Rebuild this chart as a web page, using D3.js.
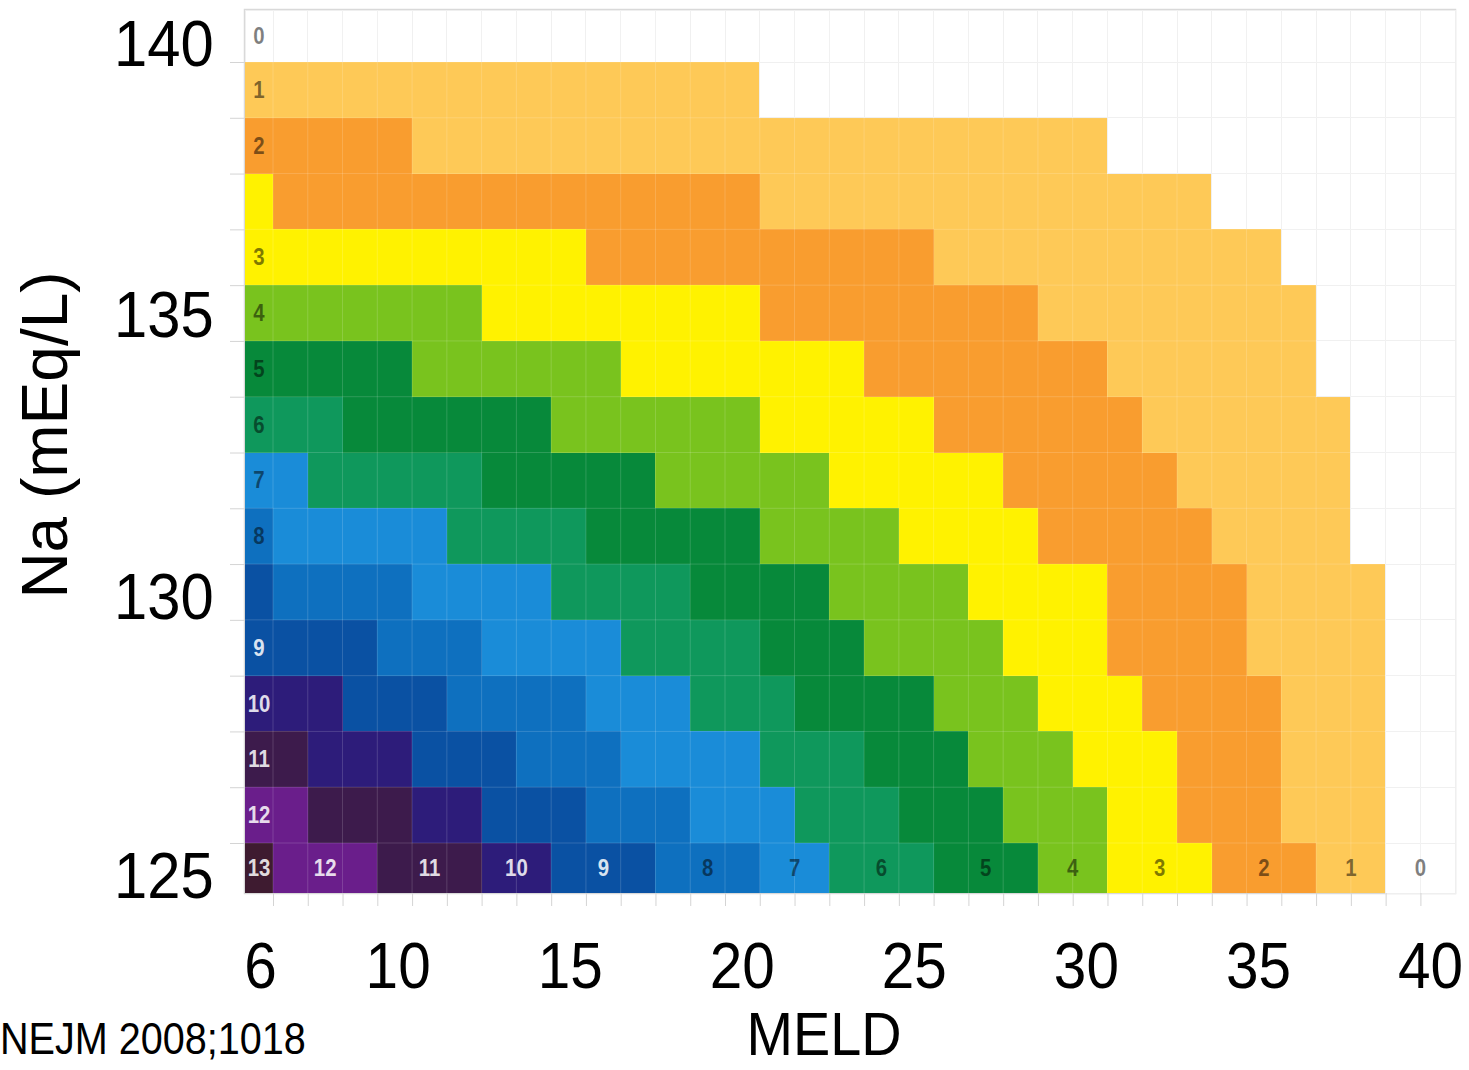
<!DOCTYPE html>
<html>
<head>
<meta charset="utf-8">
<script src="https://cdn.jsdelivr.net/npm/d3@7"></script>
<style>
  body { margin: 0; background: #fff; }
  text { font-family: "Liberation Sans", Arial, sans-serif; }
</style>
</head>
<body>
<svg width="1469" height="1070"></svg>
<script>
// MELD columns and serum sodium rows
const meldValues = [6, 7, 8, 9, 10, 11, 12, 13, 14, 15, 16, 17, 18, 19, 20, 21, 22, 23,
    24, 25, 26, 27, 28, 29, 30, 31, 32, 33, 34, 35, 36, 37, 38, 39, 40];
const naValues = [140, 139, 138, 137, 136, 135, 134, 133, 132, 131, 130, 129, 128, 127, 126, 125];

// points added to MELD, one row per Na value (MELD 6 .. 40)
const na140 = [0,0,0,0,0,0,0,0,0,0,0,0,0,0,0,0,0,0,0,0,0,0,0,0,0,0,0,0,0,0,0,0,0,0,0];
const na139 = [1,1,1,1,1,1,1,1,1,1,1,1,1,1,1,0,0,0,0,0,0,0,0,0,0,0,0,0,0,0,0,0,0,0,0];
const na138 = [2,2,2,2,2,1,1,1,1,1,1,1,1,1,1,1,1,1,1,1,1,1,1,1,1,0,0,0,0,0,0,0,0,0,0];
const na137 = [3,2,2,2,2,2,2,2,2,2,2,2,2,2,2,1,1,1,1,1,1,1,1,1,1,1,1,1,0,0,0,0,0,0,0];
const na136 = [3,3,3,3,3,3,3,3,3,3,2,2,2,2,2,2,2,2,2,2,1,1,1,1,1,1,1,1,1,1,0,0,0,0,0];
const na135 = [4,4,4,4,4,4,4,3,3,3,3,3,3,3,3,2,2,2,2,2,2,2,2,1,1,1,1,1,1,1,1,0,0,0,0];
const na134 = [5,5,5,5,5,4,4,4,4,4,4,3,3,3,3,3,3,3,2,2,2,2,2,2,2,1,1,1,1,1,1,0,0,0,0];
const na133 = [6,6,6,5,5,5,5,5,5,4,4,4,4,4,4,3,3,3,3,3,2,2,2,2,2,2,1,1,1,1,1,1,0,0,0];
const na132 = [7,7,6,6,6,6,6,5,5,5,5,5,4,4,4,4,4,3,3,3,3,3,2,2,2,2,2,1,1,1,1,1,0,0,0];
const na131 = [8,7,7,7,7,7,6,6,6,6,5,5,5,5,5,4,4,4,4,3,3,3,3,2,2,2,2,2,1,1,1,1,0,0,0];
const na130 = [9,8,8,8,8,7,7,7,7,6,6,6,6,5,5,5,5,4,4,4,4,3,3,3,3,2,2,2,2,1,1,1,1,0,0];
const na129 = [9,9,9,9,8,8,8,7,7,7,7,6,6,6,6,5,5,5,4,4,4,4,3,3,3,2,2,2,2,1,1,1,1,0,0];
const na128 = [10,10,10,9,9,9,8,8,8,8,7,7,7,6,6,6,5,5,5,5,4,4,4,3,3,3,2,2,2,2,1,1,1,0,0];
const na127 = [11,11,10,10,10,9,9,9,8,8,8,7,7,7,7,6,6,6,5,5,5,4,4,4,3,3,3,2,2,2,1,1,1,0,0];
const na126 = [12,12,11,11,11,10,10,9,9,9,8,8,8,7,7,7,6,6,6,5,5,5,4,4,4,3,3,2,2,2,1,1,1,0,0];
const na125 = [13,12,12,12,11,11,11,10,10,9,9,9,8,8,8,7,7,6,6,6,5,5,5,4,4,3,3,3,2,2,2,1,1,0,0];
const increments = [na140, na139, na138, na137, na136, na135, na134, na133,
    na132, na131, na130, na129, na128, na127, na126, na125];

const levels = [0, 1, 2, 3, 4, 5, 6, 7, 8, 9, 10, 11, 12, 13];
const levelColors = ["#ffffff", "#fec957", "#f99d2f", "#fff200", "#79c31e", "#07893a", "#0f985c",
    "#1a8cd8", "#0e70bf", "#0a51a3", "#2d1c7a", "#3d1b4c", "#6a1e8b", "#3e1b30"];

const xTicks = [6, 10, 15, 20, 25, 30, 35, 40];
const yTicks = [125, 130, 135, 140];
// rows that carry a number in the first column
const leftLabelRows = [140, 139, 138, 136, 135, 134, 133, 132, 131, 129, 128, 127, 126, 125];

const svg = d3.select("svg");
const plotLeft = 245, plotRight = 1455, plotTop = 10, plotBottom = 893;

const x = d3.scaleLinear().domain([6.5, 39.5]).range([273, 1420.4]);
const y = d3.scaleLinear().domain([139.5, 125.5]).range([62, 843]);
// the MELD numbers under the chart sit a little closer together than the columns
const xLabel = d3.scaleLinear().domain([6, 40]).range([260, 1430]);
const color = d3.scaleOrdinal().domain(levels).range(levelColors);

const clampX = v => Math.max(plotLeft, Math.min(plotRight, v));
const clampY = v => Math.max(plotTop, Math.min(plotBottom, v));

// plot frame
svg.append("rect")
    .attr("x", plotLeft - 0.5).attr("y", plotTop - 0.5)
    .attr("width", plotRight - plotLeft + 1).attr("height", plotBottom - plotTop + 1)
    .attr("fill", "#fff").attr("stroke", "#d9d9d9").attr("stroke-width", 1.5);

// cells
const cells = [];
naValues.forEach((na, i) => {
    meldValues.forEach((m, j) => cells.push({ na: na, meld: m, v: increments[i][j] }));
});

svg.append("g").selectAll("rect")
    .data(cells)
    .join("rect")
    .attr("x", d => clampX(x(d.meld - 0.5)))
    .attr("y", d => clampY(y(d.na + 0.5)))
    .attr("width", d => clampX(x(d.meld + 0.5)) - clampX(x(d.meld - 0.5)))
    .attr("height", d => clampY(y(d.na - 0.5)) - clampY(y(d.na + 0.5)))
    .attr("fill", d => color(d.v))
    .attr("stroke", d => d.v === 0 ? "#efefef" : "none")
    .attr("shape-rendering", "crispEdges");

// faint lines on top of the coloured cells
const grid = svg.append("g").attr("stroke", "#fff").attr("stroke-opacity", 0.16);
grid.selectAll("line.v")
    .data(meldValues.slice(0, -1))
    .join("line")
    .attr("class", "v")
    .attr("x1", d => x(d + 0.5)).attr("x2", d => x(d + 0.5))
    .attr("y1", plotTop).attr("y2", plotBottom);
grid.selectAll("line.h")
    .data(naValues.slice(0, -1))
    .join("line")
    .attr("class", "h")
    .attr("y1", d => y(d - 0.5)).attr("y2", d => y(d - 0.5))
    .attr("x1", plotLeft).attr("x2", plotRight);

// small grey tick marks on the column and row edges
const xEdgeAxis = svg.append("g")
    .attr("transform", `translate(0,${plotBottom})`)
    .call(d3.axisBottom(x).tickValues(meldValues.slice(0, -1).map(m => m + 0.5)).tickSize(13).tickFormat(""));
xEdgeAxis.select(".domain").remove();
xEdgeAxis.selectAll("line").attr("stroke", "#d4d4d4");

const yEdgeAxis = svg.append("g")
    .attr("transform", `translate(${plotLeft},0)`)
    .call(d3.axisLeft(y).tickValues(naValues.slice(0, -1).map(n => n - 0.5)).tickSize(15).tickFormat(""));
yEdgeAxis.select(".domain").remove();
yEdgeAxis.selectAll("line").attr("stroke", "#d4d4d4");

// tick labels
const xAxisG = svg.append("g")
    .attr("transform", `translate(0,${plotBottom})`)
    .call(d3.axisBottom(xLabel).tickValues(xTicks).tickSize(0).tickFormat(d3.format("d")));
xAxisG.select(".domain").remove();
xAxisG.selectAll("text")
    .attr("y", 95).attr("dy", 0)
    .attr("font-size", 65)
    .attr("font-family", "Liberation Sans, Arial, sans-serif")
    .attr("fill", "#000")
    .attr("transform", "scale(0.9,1)");

const yAxisG = svg.append("g")
    .attr("transform", `translate(${plotLeft},0)`)
    .call(d3.axisLeft(y).tickValues(yTicks).tickSize(0).tickFormat(d3.format("d")));
yAxisG.select(".domain").remove();
yAxisG.selectAll("text")
    .attr("x", -34).attr("dy", d => d === 140 ? 31 : d === 135 ? 23 : 27)
    .attr("font-size", 65)
    .attr("font-family", "Liberation Sans, Arial, sans-serif")
    .attr("fill", "#000")
    .attr("transform", "scale(0.92,1)");

// numbers inside the first column
const labelColor = v => v >= 9 ? "rgba(255,255,255,0.85)" : "rgba(0,0,0,0.5)";
const rowMid = na => (clampY(y(na + 0.5)) + clampY(y(na - 0.5))) / 2;
const firstCol = leftLabelRows.map(na => ({ na: na, v: increments[naValues.indexOf(na)][0] }));
svg.append("g").selectAll("text")
    .data(firstCol)
    .join("text")
    .attr("transform", d => `translate(${(clampX(x(5.5)) + x(6.5)) / 2},${rowMid(d.na) + 8}) scale(0.85,1)`)
    .attr("text-anchor", "middle")
    .attr("font-size", 24)
    .attr("font-weight", "bold")
    .attr("fill", d => labelColor(d.v))
    .text(d => d.v);

// numbers along the bottom row, one per run of equal values
const lastRow = increments[increments.length - 1];
const runs = [];
lastRow.forEach((v, j) => {
    if (runs.length && runs[runs.length - 1].v === v) runs[runs.length - 1].end = meldValues[j];
    else runs.push({ v: v, start: meldValues[j], end: meldValues[j] });
});
svg.append("g").selectAll("text")
    .data(runs.slice(1))
    .join("text")
    .attr("transform", d => `translate(${(x(d.start - 0.5) + x(d.end + 0.5)) / 2},${rowMid(125) + 8}) scale(0.85,1)`)
    .attr("text-anchor", "middle")
    .attr("font-size", 24)
    .attr("font-weight", "bold")
    .attr("fill", d => labelColor(d.v))
    .text(d => d.v);

// axis titles and source
svg.append("text")
    .attr("transform", "translate(67,435) rotate(-90)")
    .attr("text-anchor", "middle")
    .attr("font-size", 64)
    .text("Na (mEq/L)");

svg.append("text")
    .attr("transform", "translate(824,1055) scale(0.9,1)")
    .attr("text-anchor", "middle")
    .attr("font-size", 62)
    .text("MELD");

svg.append("text")
    .attr("transform", "translate(0,1054) scale(0.9,1)")
    .attr("font-size", 44)
    .text("NEJM 2008;1018");
</script>
</body>
</html>
